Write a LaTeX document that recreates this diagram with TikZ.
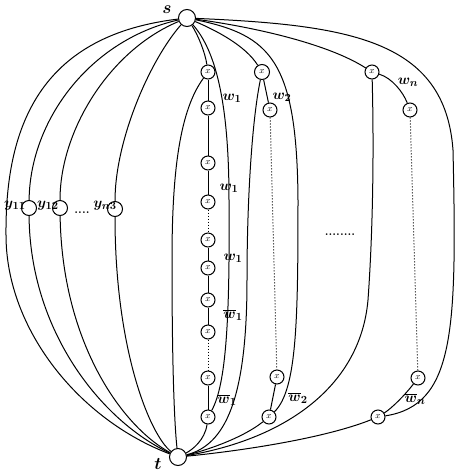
\documentclass[tikz,border=0pt]{standalone}
\begin{document}
\begin{tikzpicture}[x=1pt,y=-1pt,
  xnode/.style={circle,draw,line width=1pt,minimum size=14pt,inner sep=0pt,font=\fontsize{9}{9}\selectfont},
  ynode/.style={circle,draw,line width=1pt,minimum size=15pt,inner sep=0pt},
  term/.style={circle,draw,line width=1pt,minimum size=17pt,inner sep=0pt},
  lbl/.style={inner sep=0pt,font=\fontsize{15}{15}\selectfont\boldmath},
  big/.style={inner sep=0pt,font=\fontsize{17}{17}\selectfont\boldmath},
  conn/.style={line width=1pt},
  dotc/.style={line width=1pt,dotted}]
\useasboundingbox (0,0) rectangle (456,475);
% terminals
\node[term] (s) at (187,18) {};
\node[term] (t) at (178,457) {};
\node[big] (slab) at (167,10) {$s$};
\node[big] (tlab) at (158,464) {$t$};
% y nodes
\node[ynode] (y1) at (29,208) {};
\node[ynode] (y2) at (60,208) {};
\node[ynode] (y3) at (115,209) {};
\node[lbl] (y1l) at (15,206) {$y_{11}$};
\node[lbl] (y2l) at (48,206) {$y_{12}$};
\node[lbl] (y3l) at (105,206) {$y_{n3}$};
\node[inner sep=0pt,font=\fontsize{12}{12}\selectfont\bfseries] (ydots) at (82,213) {....};
% column 1
\foreach \i/\yy in {1/72,2/108,3/163,4/202,5/240,6/268,7/300,8/332,9/378,10/417}
  \node[xnode] (p\i) at (208,\yy) {$x$};
% column 2
\node[xnode,minimum size=15pt] (a2) at (262,72) {$x$};
\node[xnode] (b2) at (270,110) {$x$};
\node[xnode] (c2) at (277,377) {$x$};
\node[xnode] (d2) at (269,417) {$x$};
% column n
\node[xnode] (an) at (372,72) {$x$};
\node[xnode] (bn) at (410,110) {$x$};
\node[xnode] (cn) at (418,378) {$x$};
\node[xnode] (dn) at (378,417) {$x$};
% waypoints
\coordinate (l0) at (6,235);
\coordinate (m1) at (172,260);
\coordinate (r1) at (229,200);
\coordinate (m2) at (247,280);
\coordinate (r2) at (298,200);
\coordinate (m3) at (368,300);
\coordinate (r3) at (453,150);
% left curves
\draw[conn] (s) .. controls (45,35) and (5,120) .. (l0) .. controls (6,330) and (80,420) .. (t);
\draw[conn] (s) .. controls (90,40) and (30,120) .. (y1);
\draw[conn] (y1) .. controls (30,330) and (100,420) .. (t);
\draw[conn] (s) .. controls (110,50) and (60,130) .. (y2);
\draw[conn] (y2) .. controls (62,340) and (120,425) .. (t);
\draw[conn] (s) .. controls (150,60) and (115,140) .. (y3);
\draw[conn] (y3) .. controls (115,350) and (150,435) .. (t);
% column 1 chain
\draw[conn] (s) .. controls (198,35) and (205,52) .. (p1);
\draw[conn] (p1) -- (p2) (p2) -- (p3) (p3) -- (p4) (p5) -- (p6) (p6) -- (p7) (p7) -- (p8) (p9) -- (p10);
\draw[dotc] (p4) -- (p5) (p8) -- (p9);
\draw[conn] (p1) .. controls (180,110) and (172,170) .. (m1) .. controls (172,380) and (175,430) .. (t);
\draw[conn] (p10) .. controls (205,440) and (192,450) .. (t);
\draw[conn] (s) .. controls (215,50) and (229,100) .. (r1) .. controls (230,320) and (226,385) .. (p10);
\node[lbl] (w1a) at (232,98) {$w_1$};
\node[lbl] (w1b) at (229,188) {$w_1$};
\node[lbl] (w1c) at (233,258) {$w_1$};
\node[lbl] (w1d) at (233,315) {$\overline{w}_1$};
\node[lbl] (w1e) at (227,400) {$\overline{w}_1$};
% column 2
\draw[conn] (s) .. controls (215,30) and (245,45) .. (a2);
\draw[conn] (a2) -- (b2);
\draw[dotc] (b2) -- (c2);
\draw[conn] (c2) -- (d2);
\draw[conn] (a2) .. controls (252,120) and (247,200) .. (m2) .. controls (247,400) and (225,445) .. (t);
\draw[conn] (d2) .. controls (240,440) and (200,452) .. (t);
\draw[conn] (s) .. controls (270,35) and (297,60) .. (r2) .. controls (298,320) and (297,390) .. (d2);
\node[lbl] (w2a) at (282,97) {$w_2$};
\node[lbl] (w2b) at (298,398) {$\overline{w}_2$};
% column n
\draw[conn] (s) .. controls (260,28) and (330,45) .. (an);
\draw[conn] (an) .. controls (392,78) and (403,92) .. (bn);
\draw[dotc] (bn) -- (cn);
\draw[conn] (cn) .. controls (405,395) and (392,408) .. (dn);
\draw[conn] (an) .. controls (374,150) and (373,230) .. (m3) .. controls (360,390) and (280,440) .. (t);
\draw[conn] (dn) .. controls (320,440) and (230,452) .. (t);
\draw[conn] (s) .. controls (350,25) and (445,40) .. (r3) .. controls (457,330) and (455,405) .. (dn);
\node[lbl] (wna) at (408,82) {$w_n$};
\node[lbl] (wnb) at (415,399) {$\overline{w}_n$};
\node[inner sep=0pt,font=\fontsize{12}{12}\selectfont\bfseries] (mdots) at (340,235) {........};
\end{tikzpicture}
\end{document}
